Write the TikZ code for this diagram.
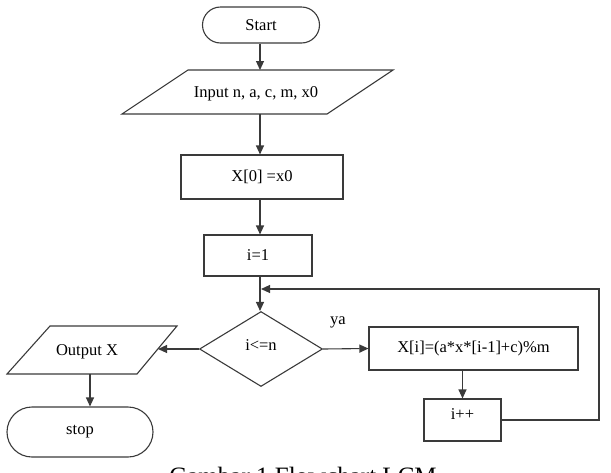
\documentclass[tikz,border=0pt]{standalone}
\usepackage{fontspec}
\setmainfont{Liberation Serif}
\usetikzlibrary{shapes.geometric,shapes.misc,arrows.meta}
\definecolor{lin}{HTML}{3A3A3A}
\tikzset{
  base/.style={draw=lin, line width=1.1pt, font=\fontsize{16.5}{19}\selectfont, inner sep=0pt, align=center},
  term/.style={base, rounded rectangle},
  proc/.style={base, rectangle},
  dec/.style={base, diamond},
  conn/.style={draw=lin, line width=1.1pt, -{Triangle[length=9pt,width=8pt]}},
  plain/.style={draw=lin, line width=1.1pt, line join=miter},
  lbl/.style={font=\fontsize{16.5}{19}\selectfont, inner sep=0pt}
}
\begin{document}
\begin{tikzpicture}[x=1pt,y=-1pt]
\useasboundingbox (0,0) rectangle (611,472);
\node[term, minimum width=117pt, minimum height=36pt] (start) at (261,25) {Start};
% input parallelogram
\draw[plain] (188,70) -- (393,70) -- (327,114) -- (122,114) -- cycle;
\coordinate (inpn) at (260,70);
\coordinate (inps) at (260,114);
\node[lbl] (inpt) at (256,94) {Input n, a, c, m, x0};
\node[proc, minimum width=162pt, minimum height=44pt] (x0) at (262,177) {X[0] =x0};
\node[proc, minimum width=108pt, minimum height=41pt] (i1) at (258,255.5) {i=1};
\node[dec, minimum width=123pt, minimum height=75pt] (d) at (261,349) {};
\node[lbl] (dt) at (261,345) {i<=n};
\node[proc, minimum width=209pt, minimum height=43pt] (xi) at (473.5,348.5) {X[i]=(a*x*[i-1]+c)\%m};
\node[proc, minimum width=77pt, minimum height=42pt] (inc) at (462.5,420) {};
\node[lbl] (inct) at (462.5,414) {i++};
% output parallelogram
\draw[plain] (50,326) -- (177,326) -- (137,374) -- (7,374) -- cycle;
\coordinate (oute) at (158,349);
\coordinate (outs) at (90,374);
\node[lbl] (outt) at (87,352) {Output X};
\node[term, minimum width=146pt, minimum height=50pt] (stop) at (80,432) {stop};
\node[lbl] (ya) at (338,322) {ya};
\node[lbl, font=\fontsize{25}{29}\selectfont, anchor=base] (cap) at (303,484) {Gambar 1 Flowchart LCM};

\coordinate (c1) at (260,0);
\draw[conn] (start.south -| c1) -- (inpn);
\draw[conn] (inps) -- (x0.north -| c1);
\draw[conn] (x0.south -| c1) -- (i1.north -| c1);
\draw[conn] (i1.south -| c1) -- (d.north -| c1);
\draw[conn] (d.west) -- (oute);
\draw[conn] (outs) -- (stop.north -| outs);
\draw[conn] (d.east) -- (xi.west);
\draw[conn] (xi.south -| inc.north) -- (inc.north);
\coordinate (lr) at (599,420);
\coordinate (lt) at (599,289);
\coordinate (lj) at (261,289);
\draw[conn] (inc.east) -- (lr) -- (lt) -- (lj);
\end{tikzpicture}
\end{document}
